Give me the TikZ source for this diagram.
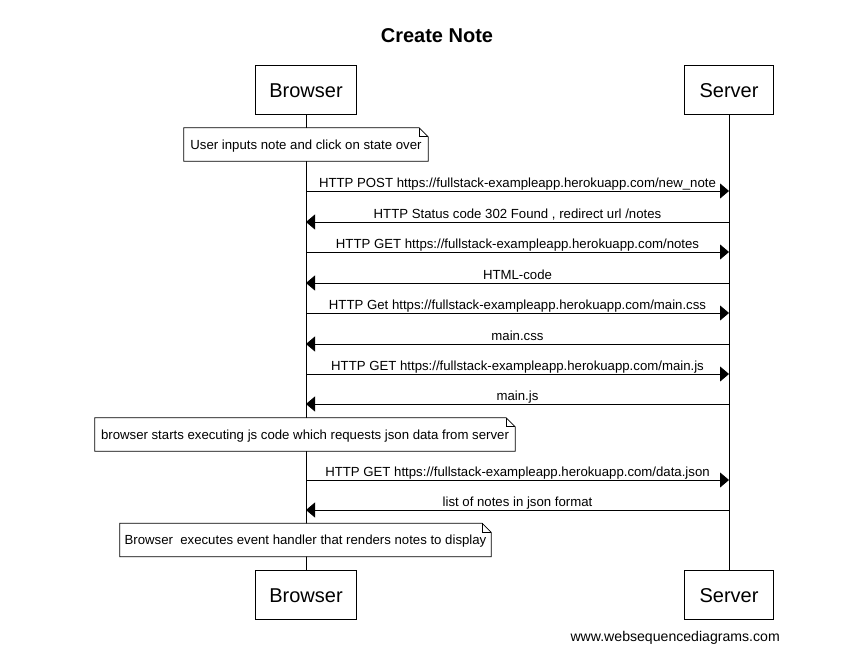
\documentclass[tikz,border=0pt]{standalone}
\usepackage{fontspec}
\setmainfont{Liberation Sans}
\usetikzlibrary{arrows.meta}
\begin{document}
\begin{tikzpicture}[x=1pt,y=-1pt,
  actor/.style={draw,line width=0.8pt,minimum width=101pt,minimum height=49pt,font=\fontsize{20}{24}\selectfont,inner sep=0pt},
  actortext/.style={font=\fontsize{20}{24}\selectfont,inner sep=0pt,yshift=-1pt},
  lifeline/.style={line width=0.8pt},
  msg/.style={line width=0.8pt,-{Triangle[length=9pt,width=15pt]}},
  lbl/.style={font=\fontsize{13.2}{15}\selectfont,inner sep=0pt,anchor=base},
  notebox/.style={minimum height=33pt,inner sep=0pt,font=\fontsize{13.2}{15}\selectfont},
  notetext/.style={inner sep=0pt,font=\fontsize{13.2}{15}\selectfont,yshift=-1.5pt},
  noteline/.style={line width=0.8pt}
]
\useasboundingbox (0,0) rectangle (845,661);
\fill[white] (0,0) rectangle (845,661);
\node[font=\bfseries\fontsize{20}{24}\selectfont] (title) at (437,35.5) {Create Note};
\node[actor] (bt) at (306,90) {};
\node[actortext] at (bt) {Browser};
\node[actor,minimum width=89pt] (st) at (729,90) {};
\node[actortext] at (st) {Server};
\node[actor] (bb) at (306,595) {};
\node[actortext] at (bb) {Browser};
\node[actor,minimum width=89pt] (sb) at (729,595) {};
\node[actortext] at (sb) {Server};
\draw[lifeline] (bt.south) -- (bb.north);
\draw[lifeline] (st.south) -- (sb.north);
% notes
\newcommand{\drawnote}[1]{\draw[noteline,fill=white] (#1.north west) -- ([xshift=-9pt]#1.north east) -- ([yshift=-9pt]#1.north east) -- (#1.south east) -- (#1.south west) -- cycle;
  \draw[noteline] ([xshift=-9pt]#1.north east) -- ([xshift=-9pt,yshift=-9pt]#1.north east) -- ([yshift=-9pt]#1.north east);}
\node[notebox,minimum width=244pt] (n1) at (306,144.5) {};
\drawnote{n1}
\node[notetext] at (n1) {User inputs note and click on state over};
\node[notebox,minimum width=420pt] (n2) at (305,434.5) {};
\drawnote{n2}
\node[notetext] at (n2) {browser starts executing js code which requests json data from server};
\node[notebox,minimum width=371pt] (n3) at (305.5,540) {};
\drawnote{n3}
\node[notetext] at (n3) {Browser\ \ executes event handler that renders notes to display};
% messages
\foreach \i/\y/\dir/\t in {
 1/191/r/{HTTP POST https://fullstack-exampleapp.herokuapp.com/new\_note},
 2/222/l/{HTTP Status code 302 Found , redirect url /notes},
 3/252/r/{HTTP GET https://fullstack-exampleapp.herokuapp.com/notes},
 4/283/l/{HTML-code},
 5/313/r/{HTTP Get https://fullstack-exampleapp.herokuapp.com/main.css},
 6/344/l/{main.css},
 7/374/r/{HTTP GET https://fullstack-exampleapp.herokuapp.com/main.js},
 8/404/l/{main.js},
 9/480/r/{HTTP GET https://fullstack-exampleapp.herokuapp.com/data.json},
 10/510/l/{list of notes in json format}}{
  \coordinate (b\i) at (306,\y);
  \coordinate (s\i) at (729,\y);
  \if\dir r
    \draw[msg] (b\i) -- (s\i);
  \else
    \draw[msg] (s\i) -- (b\i);
  \fi
  \node[lbl] (m\i) at (517.5,\y-3.5) {\t};
}
\node[font=\fontsize{14.1}{16}\selectfont,anchor=east,inner sep=0pt] (wsd) at (780,638) {www.websequencediagrams.com};
\end{tikzpicture}
\end{document}
